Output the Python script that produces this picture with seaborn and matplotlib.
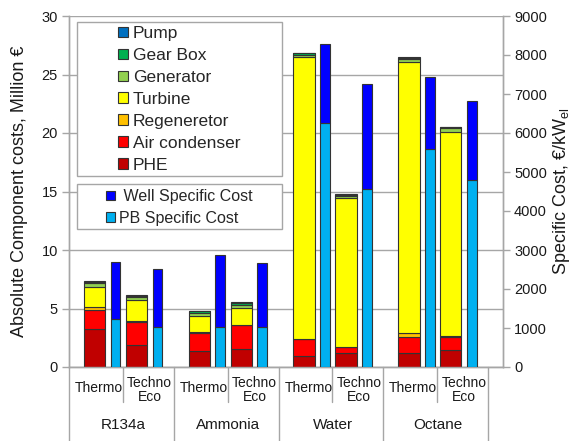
import numpy as np
import pandas as pd
import matplotlib
matplotlib.use("Agg")
import matplotlib.pyplot as plt
from matplotlib.patches import Patch, Rectangle
import seaborn as sns

# ---- data -------------------------------------------------------------
fluids = ["R134a", "Ammonia", "Water", "Octane"]
designs = ["Thermo", "Techno\nEco"]

# absolute component costs [Million EUR]; one entry per (fluid, design):
# R134a-Thermo, R134a-TechnoEco, Ammonia-Thermo, Ammonia-TechnoEco, ...
phe = [3.22, 1.85, 1.37, 1.56, 0.97, 1.17, 1.17, 1.45]
air_condenser = [1.65, 2.03, 1.56, 2.00, 1.40, 0.57, 1.37, 1.09]
regenerator = [0.28, 0.08, 0.07, 0.06, 0.00, 0.00, 0.34, 0.14]
turbine = [1.71, 1.77, 1.39, 1.45, 24.10, 12.68, 23.16, 17.43]
generator = [0.29, 0.25, 0.25, 0.23, 0.20, 0.20, 0.26, 0.29]
gear_box = [0.11, 0.10, 0.14, 0.18, 0.14, 0.12, 0.12, 0.10]
pump = [0.05, 0.04, 0.04, 0.04, 0.05, 0.05, 0.05, 0.04]

# specific costs [EUR/kW_el]
pb_specific = [1231, 1034, 1034, 1034, 6248, 4572, 5597, 4803]
well_specific = [1470, 1480, 1838, 1633, 2026, 2676, 1831, 2026]

component_names = ["PHE", "Air condenser", "Regeneretor", "Turbine",
                   "Generator", "Gear Box", "Pump"]
component_values = [phe, air_condenser, regenerator, turbine,
                    generator, gear_box, pump]
component_colors = ["#C00000", "#FF0000", "#FFC000", "#FFFF00",
                    "#92D050", "#00B050", "#0070C0"]
pb_color = "#00B0F0"
well_color = "#0000FF"

# ---- style ------------------------------------------------------------
sns.set_theme(style="white")
plt.rcParams["font.family"] = ["Liberation Sans", "DejaVu Sans"]
grey = "#A6A6A6"
edge = "#333333"

W, H = 576, 441
fig = plt.figure(figsize=(W / 100, H / 100), dpi=100)
ax = fig.add_axes([69 / W, 1 - 367 / H, 434 / W, 351 / H])
ax2 = ax.twinx()

# ---- bar positions ----------------------------------------------------
n = len(phe)
group = np.arange(n) // 2
design = np.arange(n) % 2
x_comp = group + 0.243 + 0.4 * design
x_spec = x_comp + 0.2
w_comp, w_spec = 0.203, 0.092

df = pd.DataFrame({name: vals for name, vals in zip(component_names, component_values)})
bottom = np.zeros(n)
for name, color in zip(component_names, component_colors):
    ax.bar(x_comp, df[name].values, width=w_comp, bottom=bottom, color=color,
           edgecolor=edge, linewidth=0.8, zorder=3)
    bottom += df[name].values

ax2.bar(x_spec, pb_specific, width=w_spec, color=pb_color,
        edgecolor=edge, linewidth=0.8, zorder=3)
ax2.bar(x_spec, well_specific, width=w_spec, bottom=pb_specific, color=well_color,
        edgecolor=edge, linewidth=0.8, zorder=3)

# ---- axes -------------------------------------------------------------
ax.set_xlim(0, 4.141)
ax.set_ylim(0, 30)
ax2.set_ylim(0, 9000)
ax.set_yticks(np.arange(0, 31, 5))
ax2.set_yticks(np.arange(0, 9001, 1000))
ax.set_xticks([])
ax2.set_xticks([])

ax.yaxis.grid(True, color=grey, linewidth=1.0)
ax.set_axisbelow(True)

for a in (ax, ax2):
    a.spines["top"].set_visible(False)
    for side in ("left", "right", "bottom"):
        a.spines[side].set_color(grey)
        a.spines[side].set_linewidth(1.0)
ax.tick_params(axis="y", which="major", left=True, direction="out", length=5,
               width=1.0, color=grey, labelsize=10.5, labelcolor="#1a1a1a", pad=3)
ax2.tick_params(axis="y", which="major", right=True, direction="out", length=5,
                width=1.0, color=grey, labelsize=10.5, labelcolor="#1a1a1a", pad=3)

ax.set_ylabel("Absolute Component costs, Million €", fontsize=13,
              color="#1a1a1a", labelpad=10)
ax2.set_ylabel("Specific Cost, €/kW$_{\\mathregular{el}}$", fontsize=13,
               color="#1a1a1a", labelpad=3)

# ---- two-level category axis -----------------------------------------
xt = ax.get_xaxis_transform()
sub_depth = -35 / 351
grp_depth = -74 / 351
for g in range(len(fluids) + 1):
    ax.plot([g, g], [0, grp_depth], transform=xt, color=grey, lw=1.0,
            clip_on=False, zorder=1)
for g, fluid in enumerate(fluids):
    ax.plot([g + 0.513, g + 0.513], [0, sub_depth], transform=xt, color=grey,
            lw=1.0, clip_on=False, zorder=1)
    ax.text(g + 0.285, -21 / 351, designs[0], transform=xt, ha="center",
            va="center", fontsize=10, color="#1a1a1a")
    ax.text(g + 0.77, -23 / 351, designs[1], transform=xt, ha="center",
            va="center", fontsize=10, color="#1a1a1a", linespacing=1.05)
    ax.text(g + 0.52, -58 / 351, fluid, transform=xt, ha="center",
            va="center", fontsize=11, color="#1a1a1a")

# ---- legends ----------------------------------------------------------
def fig_box(x0, y0, x1, y1):
    fig.patches.append(Rectangle((x0 / W, 1 - y1 / H), (x1 - x0) / W, (y1 - y0) / H,
                                 transform=fig.transFigure, facecolor="white",
                                 edgecolor=grey, linewidth=1.0, zorder=4))

fig_box(77, 22, 282, 176)
fig_box(77, 184, 282, 229)

comp_handles = [Patch(facecolor=c, edgecolor=edge, linewidth=0.8)
                for c in component_colors][::-1]
leg1 = fig.legend(comp_handles, component_names[::-1], loc="upper left",
                  bbox_to_anchor=(118 / W, 1 - 26 / H), frameon=False,
                  fontsize=12.5, handlelength=0.55, handleheight=0.55,
                  handletextpad=0.3, labelspacing=0.4, borderpad=0,
                  borderaxespad=0)
leg1.set_zorder(5)

spec_handles = [Patch(facecolor=well_color, edgecolor=edge, linewidth=0.8),
                Patch(facecolor=pb_color, edgecolor=edge, linewidth=0.8)]
leg2 = fig.legend(spec_handles, [" Well Specific Cost", "PB Specific Cost"],
                  loc="upper left", bbox_to_anchor=(106 / W, 1 - 189 / H),
                  frameon=False, fontsize=11.5, handlelength=0.55,
                  handleheight=0.55, handletextpad=0.25, labelspacing=0.42,
                  borderpad=0, borderaxespad=0)
leg2.set_zorder(5)

fig.savefig("out.png", dpi=100)
